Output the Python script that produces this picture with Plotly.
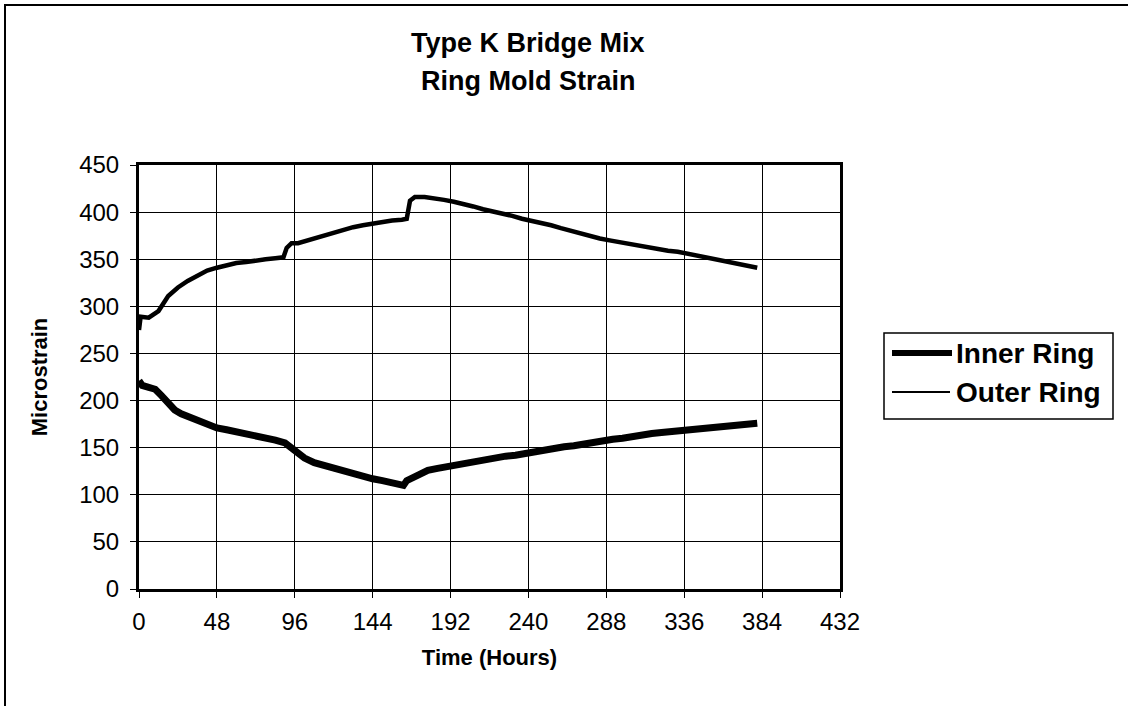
import plotly.graph_objects as go

# Ring mold strain readings (microstrain) against elapsed time (hours)
inner_hours = [0, 2, 6, 10, 14, 18, 22, 26, 30, 36, 42, 48, 54, 60, 66, 72, 78, 84, 90, 94,
               98, 102, 108, 114, 120, 126, 132, 138, 144, 150, 156, 160, 163, 165, 168, 172,
               178, 184, 190, 196, 202, 208, 214, 220, 226, 232, 238, 244, 250, 256, 262, 268,
               274, 280, 286, 292, 298, 304, 310, 316, 322, 328, 334, 340, 346, 352, 358, 364,
               370, 376, 381]
inner_strain = [221, 216, 214, 212, 205, 196, 190, 186, 183, 178, 174, 171, 169, 167, 165, 163,
                160, 158, 155, 150, 144, 139, 134, 131, 128, 125, 122, 119, 117, 115, 113, 111,
                110, 115, 118, 122, 126, 128, 130, 132, 134, 136, 138, 139, 141, 142, 144, 145,
                147, 149, 151, 152, 154, 156, 157, 159, 160, 162, 163, 165, 166, 167, 169, 170,
                171, 172, 173, 174, 175, 175, 176]

outer_hours = [0, 1, 6, 12, 18, 24, 30, 36, 42, 48, 54, 60, 66, 72, 78, 84, 89, 91, 94, 98,
               102, 108, 114, 120, 126, 132, 138, 144, 150, 156, 162, 165, 167, 170, 176, 182,
               188, 194, 200, 206, 212, 218, 224, 230, 236, 242, 248, 254, 260, 266, 272, 278,
               284, 290, 296, 302, 308, 314, 320, 326, 332, 338, 344, 350, 356, 362, 368, 374,
               381]
outer_strain = [275, 289, 288, 295, 311, 320, 327, 333, 338, 341, 344, 346, 347, 349, 350, 351,
                352, 362, 367, 367, 369, 373, 376, 379, 381, 384, 386, 388, 390, 391, 392, 393,
                412, 416, 416, 415, 413, 411, 409, 406, 403, 401, 398, 396, 393, 391, 388, 386,
                383, 380, 377, 374, 372, 370, 368, 367, 365, 363, 361, 359, 358, 356, 354, 352,
                350, 348, 346, 344, 341]

x_ticks = [0, 48, 96, 144, 192, 240, 288, 336, 384, 432]
y_ticks = [0, 50, 100, 150, 200, 250, 300, 350, 400, 450]

W, H = 1128, 706
L, R, T, B = 139, 840, 165, 589  # plot area edges in pixels
FONT = "Arial, Liberation Sans, sans-serif"


def px(x):
    return (x - L) / (R - L)


def py(y):
    return (B - y) / (B - T)


fig = go.Figure()
fig.add_trace(go.Scatter(x=inner_hours, y=inner_strain, mode="lines", name="Inner Ring",
                         line=dict(color="black", width=7), showlegend=False))
fig.add_trace(go.Scatter(x=outer_hours, y=outer_strain, mode="lines", name="Outer Ring",
                         line=dict(color="black", width=4.5), showlegend=False))

axis_common = dict(
    showgrid=True, gridcolor="black", gridwidth=1,
    showline=True, linecolor="black", linewidth=3, mirror=True,
    ticks="outside", ticklen=6, tickcolor="black", tickwidth=1,
    tickfont=dict(family=FONT, size=24, color="black"),
    zeroline=False,
)

fig.update_xaxes(range=[0, 432], tickvals=x_ticks, ticktext=[str(v) for v in x_ticks],
                 ticklabelstandoff=3,
                 title=dict(text="<b>Time (Hours)</b>", font=dict(family=FONT, size=22, color="black"),
                            standoff=16),
                 **axis_common)
fig.update_yaxes(range=[0, 450], tickvals=y_ticks, ticktext=[str(v) for v in y_ticks],
                 ticklabelstandoff=6,
                 title=dict(text="<b>Microstrain</b>", font=dict(family=FONT, size=22, color="black"),
                            standoff=26),
                 **axis_common)

shapes = []
annotations = []

# outer chart frame (only top and left edges fall inside the page)
shapes.append(dict(type="rect", xref="paper", yref="paper",
                   x0=px(5), x1=px(W + 20), y0=py(5), y1=py(H + 20),
                   line=dict(color="black", width=2), fillcolor="rgba(0,0,0,0)", layer="above"))

# title lines
for text, yc in [("Type K Bridge Mix", 43), ("Ring Mold Strain", 81)]:
    annotations.append(dict(text=f"<b>{text}</b>", xref="paper", yref="paper",
                            x=px(528), y=py(yc), xanchor="center", yanchor="middle",
                            showarrow=False, font=dict(family=FONT, size=27, color="black")))

# legend box
shapes.append(dict(type="rect", xref="paper", yref="paper",
                   x0=px(884), x1=px(1113), y0=py(333), y1=py(419),
                   line=dict(color="black", width=1.5), fillcolor="white"))
for label, yc, lw, x_end in [("Inner Ring", 353, 6, 952), ("Outer Ring", 392, 2, 950)]:
    shapes.append(dict(type="line", xref="paper", yref="paper",
                       x0=px(892), x1=px(x_end), y0=py(yc), y1=py(yc),
                       line=dict(color="black", width=lw)))
    annotations.append(dict(text=f"<b>{label}</b>", xref="paper", yref="paper",
                            x=px(954), y=py(yc), xanchor="left", yanchor="middle",
                            showarrow=False, font=dict(family=FONT, size=28, color="black")))

fig.update_layout(
    width=W, height=H,
    margin=dict(l=L, r=W - R, t=T, b=H - B),
    paper_bgcolor="white", plot_bgcolor="white",
    shapes=shapes, annotations=annotations,
    showlegend=False,
)

fig.write_html("out.html")
